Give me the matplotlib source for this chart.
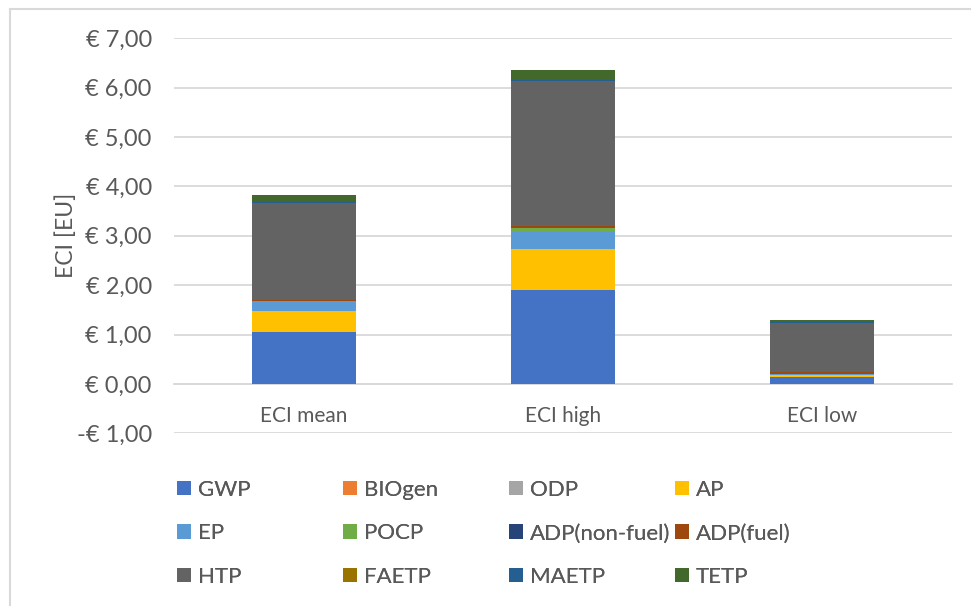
#!/usr/bin/env python3
"""
Stacked ECI bars (mean / high / low) split by impact category.
"""

import matplotlib
matplotlib.use("Agg")
import matplotlib.pyplot as plt  # type: ignore
from matplotlib.patches import Patch
from matplotlib.lines import Line2D
from matplotlib.ticker import FuncFormatter, MultipleLocator

plt.rcParams["font.family"] = ["Lato", "DejaVu Sans"]

CATEGORIES = ["ECI mean", "ECI high", "ECI low"]

IMPACTS = ["GWP", "BIOgen", "ODP", "AP", "EP", "POCP",
           "ADP(non-fuel)", "ADP(fuel)", "HTP", "FAETP", "MAETP", "TETP"]

COLORS = ["#4472C4", "#ED7D31", "#A5A5A5", "#FFC000", "#5B9BD5", "#70AD47",
          "#264478", "#9E480E", "#636363", "#997300", "#255E91", "#43682B"]

# values per impact for [mean, high, low] (EUR)
GWP = [1.05, 1.91, 0.15]
BIOGEN = [0.0, 0.0, 0.0]
ODP = [0.0, 0.0, 0.0]
AP = [0.42, 0.82, 0.04]
EP = [0.19, 0.37, 0.01]
POCP = [0.01, 0.05, 0.01]
ADP_NONFUEL = [0.0, 0.0, 0.0]
ADP_FUEL = [0.03, 0.05, 0.03]
HTP = [1.96, 2.93, 0.99]
FAETP = [0.005, 0.01, 0.005]
MAETP = [0.01, 0.02, 0.02]
TETP = [0.15, 0.20, 0.04]

SERIES = [GWP, BIOGEN, ODP, AP, EP, POCP, ADP_NONFUEL, ADP_FUEL, HTP, FAETP, MAETP, TETP]

TEXT = "#595959"
GRID = "#d9d9d9"


def euro(v, pos):
    s = f"{abs(v):.2f}".replace(".", ",")
    return f"-€ {s}" if v < 0 else f"€ {s}"


def main():
    W, H = 971, 606
    fig = plt.figure(figsize=(W / 100, H / 100), dpi=100)
    ax = fig.add_axes([174 / W, 1 - 433.3 / H, (952 - 174) / W, (433.3 - 38.3) / H])

    x = list(range(len(CATEGORIES)))
    bottom = [0.0] * len(CATEGORIES)
    for name, vals, col in zip(IMPACTS, SERIES, COLORS):
        ax.bar(x, vals, width=0.4, bottom=bottom, color=col, label=name, zorder=3)
        bottom = [b + v for b, v in zip(bottom, vals)]

    ax.set_xlim(-0.5, len(CATEGORIES) - 0.5)
    ax.set_ylim(-1, 7)
    ax.yaxis.set_major_locator(MultipleLocator(1))
    ax.yaxis.set_major_formatter(FuncFormatter(euro))
    ax.grid(axis="y", color=GRID, linewidth=1.3, zorder=0)
    for s in ["top", "right", "left"]:
        ax.spines[s].set_visible(False)
    ax.spines["bottom"].set_position(("data", 0))
    ax.spines["bottom"].set_color(GRID)
    ax.spines["bottom"].set_linewidth(1.3)
    ax.spines["bottom"].set_zorder(2)

    ax.set_xticks(x)
    ax.set_xticklabels(CATEGORIES)
    ax.tick_params(axis="x", length=0, pad=16, labelsize=15, labelcolor=TEXT)
    ax.tick_params(axis="y", length=0, pad=16, labelsize=17, labelcolor=TEXT)
    ax.set_ylabel("ECI [EU]", fontsize=16.5, color=TEXT, va="center")
    ax.yaxis.set_label_coords((66 - 174) / 778, 0.5)

    # legend: 4 equally wide columns, 3 rows, row-wise order
    ncol = 4
    for c in range(ncol):
        idx = list(range(c, len(IMPACTS), ncol))
        handles = [Patch(facecolor=COLORS[i], edgecolor="none") for i in idx]
        labels = [IMPACTS[i] for i in idx]
        leg = fig.legend(handles, labels, loc="upper left",
                         bbox_to_anchor=((168 + 166 * c) / W, 1 - 471 / H),
                         frameon=False, fontsize=16, labelcolor=TEXT,
                         handlelength=0.63, handleheight=0.63, handletextpad=0.32,
                         labelspacing=1.06, borderaxespad=0)
        fig.add_artist(leg)

    # chart border (top + left visible)
    fig.add_artist(Line2D([10 / W, 1], [1 - 9 / H, 1 - 9 / H], color=GRID, linewidth=1.5))
    fig.add_artist(Line2D([10 / W, 10 / W], [0, 1 - 9 / H], color=GRID, linewidth=1.5))

    fig.savefig("out.png", dpi=100)
    plt.close(fig)


if __name__ == "__main__":
    main()
